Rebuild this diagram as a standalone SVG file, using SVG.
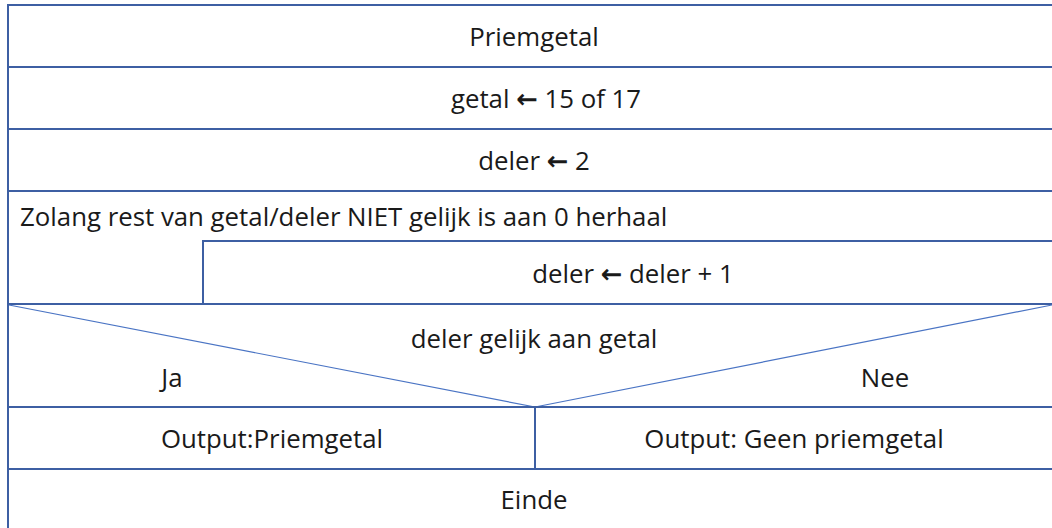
<svg xmlns="http://www.w3.org/2000/svg" width="1052" height="528" viewBox="0 0 1052 528">
  <style>
    .frame { fill: none; stroke: #3d5fa3; stroke-width: 2; }
    .diag { fill: none; stroke: #4a74c4; stroke-width: 1.2; }
    .t { font-family: "Open Sans", "Noto Sans", "DejaVu Sans", sans-serif; font-size: 25.8px; fill: #1a1a1a; }
    .c { text-anchor: middle; }
    .arr { font-family: "DejaVu Sans", sans-serif; font-weight: bold; }
  </style>
  <rect x="0" y="0" width="1052" height="528" fill="#ffffff"/>

  <g id="title">
    <line class="frame" x1="8" y1="5" x2="1052" y2="5"/>
    <text class="t c" x="534" y="46">Priemgetal</text>
  </g>
  <g id="assign-getal">
    <line class="frame" x1="8" y1="67" x2="1052" y2="67"/>
    <text class="t c" x="546" y="108">getal <tspan class="arr">←</tspan> 15 of 17</text>
  </g>
  <g id="assign-deler">
    <line class="frame" x1="8" y1="129" x2="1052" y2="129"/>
    <text class="t c" x="534" y="170">deler <tspan class="arr">←</tspan> 2</text>
  </g>
  <g id="loop">
    <line class="frame" x1="8" y1="191" x2="1052" y2="191"/>
    <text class="t" x="20" y="226">Zolang rest van getal/deler NIET gelijk is aan 0 herhaal</text>
  </g>
  <g id="loop-body">
    <polyline class="frame" points="203,304 203,241 1052,241"/>
    <text class="t c" x="633" y="283">deler <tspan class="arr">←</tspan> deler + 1</text>
  </g>
  <g id="decision">
    <line class="frame" x1="8" y1="304" x2="1052" y2="304"/>
    <text class="t c" x="534" y="348">deler gelijk aan getal</text>
    <text class="t c" x="172" y="387">Ja</text>
    <text class="t c" x="885" y="387">Nee</text>
  </g>
  <g id="output-ja">
    <text class="t c" x="272" y="448">Output:Priemgetal</text>
  </g>
  <g id="output-nee">
    <text class="t c" x="794" y="448">Output: Geen priemgetal</text>
  </g>
  <g id="einde">
    <line class="frame" x1="8" y1="469" x2="1052" y2="469"/>
    <text class="t c" x="534" y="509">Einde</text>
  </g>

  <g id="connectors">
    <line class="frame" x1="8" y1="4" x2="8" y2="528"/>
    <line class="diag" x1="9" y1="305" x2="535" y2="407"/>
    <line class="diag" x1="1052" y1="305" x2="535" y2="407"/>
    <line class="frame" x1="8" y1="407" x2="1052" y2="407"/>
    <line class="frame" x1="535" y1="407" x2="535" y2="469"/>
  </g>
</svg>
